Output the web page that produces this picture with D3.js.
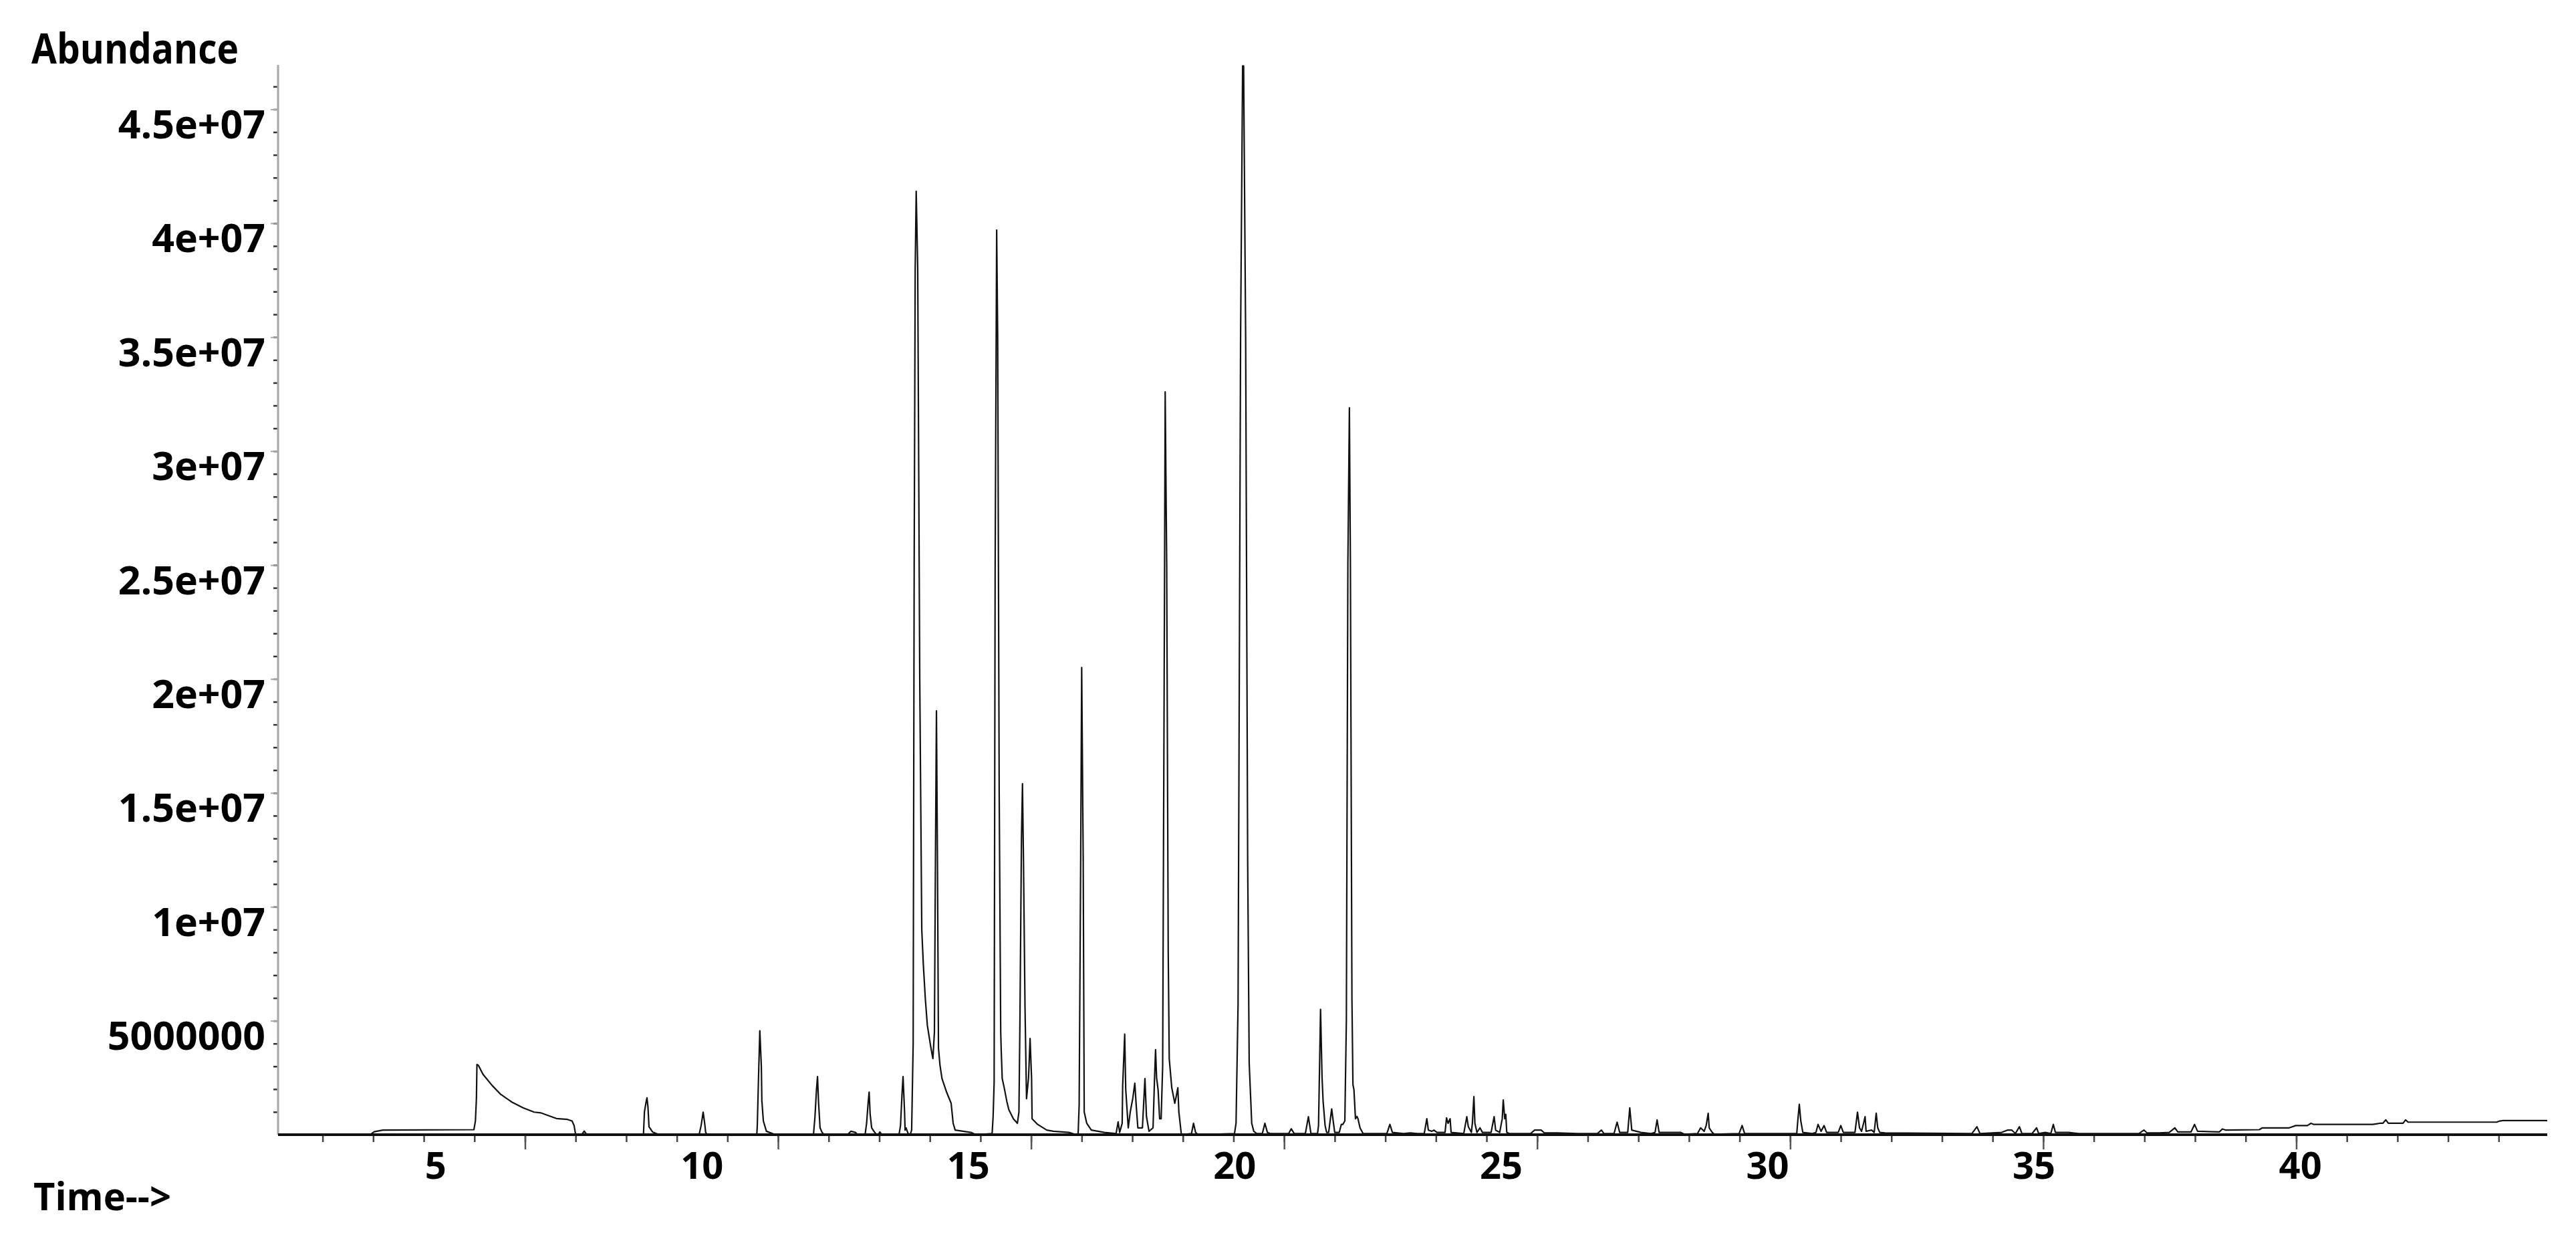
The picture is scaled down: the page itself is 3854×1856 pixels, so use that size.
<!DOCTYPE html>
<html><head><meta charset="utf-8">
<script src="https://cdn.jsdelivr.net/npm/d3@7"></script>
<style>
html,body{margin:0;padding:0;background:#fff;}
svg{display:block;}
text{font-family:"Open Sans",sans-serif;font-weight:700;fill:#000;}
</style>
</head><body>
<svg id="chart" width="3854" height="1856"></svg>
<script>
// Total ion chromatogram: [retention time (min), abundance (millions of counts)]
const ticPoints = [
[0.12,0],[1.94,0],[2.02,0.13],[2.19,0.2],[3.99,0.22],[4.02,0.6],[4.04,1.6],[4.05,3.08],[4.08,3.04],[4.17,2.65],
[4.35,2.16],[4.52,1.77],[4.74,1.43],[4.96,1.18],[5.18,0.99],[5.31,0.96],[5.40,0.89],[5.62,0.71],[5.84,0.67],[5.93,0.6],
[5.97,0.4],[6.00,0],[6.12,0],[6.17,0.16],[6.22,0],[7.34,0],[7.36,1.0],[7.39,1.4],[7.41,1.62],[7.43,1.2],
[7.45,0.35],[7.52,0.12],[7.65,0],[8.44,0],[8.48,0.4],[8.52,0.99],[8.55,0.5],[8.57,0.1],[8.60,0],[9.58,0],
[9.59,0.4],[9.62,3.0],[9.64,4.56],[9.67,3.0],[9.68,1.5],[9.71,0.6],[9.77,0.15],[9.95,0],[10.70,0],[10.73,0.8],
[10.76,2.0],[10.78,2.55],[10.80,1.43],[10.83,0.3],[10.87,0.1],[10.91,0],[11.37,0],[11.44,0.15],[11.53,0.1],[11.57,0],
[11.72,0],[11.75,0.5],[11.78,1.4],[11.80,1.87],[11.82,0.9],[11.85,0.3],[11.91,0.1],[11.95,0],[11.98,0],[12.01,0.12],
[12.05,0],[12.39,0],[12.42,0.4],[12.45,1.8],[12.47,2.55],[12.50,1.0],[12.51,0.2],[12.53,0.3],[12.57,0.05],[12.61,0],
[12.64,0.2],[12.67,4.0],[12.69,25],[12.71,38],[12.73,41.4],[12.76,38],[12.80,20],[12.84,9],[12.87,7.5],[12.91,5.98],
[12.95,4.8],[13.02,3.82],[13.06,3.34],[13.09,4.5],[13.11,12],[13.13,18.6],[13.15,12],[13.17,3.8],[13.20,3.05],[13.24,2.46],
[13.33,1.87],[13.42,1.38],[13.46,0.5],[13.50,0.2],[13.81,0.1],[13.91,0],[14.23,0.05],[14.25,0.8],[14.27,2.3],[14.29,25],
[14.32,39.7],[14.34,35],[14.37,15],[14.40,4.5],[14.41,3.7],[14.43,2.46],[14.47,2.05],[14.52,1.47],[14.56,1.1],[14.65,0.7],
[14.73,0.5],[14.76,1.0],[14.78,5],[14.81,13],[14.83,15.4],[14.85,12],[14.88,5.6],[14.91,1.58],[14.95,2.5],[14.98,4.22],
[15.01,2.46],[15.02,0.7],[15.13,0.45],[15.31,0.2],[15.44,0.15],[15.75,0.1],[15.89,0],[15.93,0.05],[15.95,1.3],[15.98,12],
[16.00,20.5],[16.03,12],[16.05,1.0],[16.10,0.5],[16.19,0.2],[16.32,0.15],[16.45,0.1],[16.68,0.05],[16.72,0.56],[16.75,0.1],
[16.80,0.5],[16.81,2.16],[16.85,4.41],[16.87,2.0],[16.92,0.3],[16.96,1.0],[17.01,1.6],[17.05,2.26],[17.08,1.2],[17.11,0.3],
[17.20,0.3],[17.25,2.46],[17.28,0.8],[17.33,0.15],[17.41,0.3],[17.44,2.5],[17.46,3.73],[17.48,2.5],[17.51,1.97],[17.54,0.7],
[17.57,0.7],[17.60,3],[17.63,20],[17.65,32.6],[17.68,25],[17.71,8],[17.73,3.34],[17.78,2.06],[17.84,1.38],[17.87,1.7],
[17.90,2.06],[17.92,1.0],[17.97,0],[18.17,0.05],[18.21,0.5],[18.25,0.1],[18.30,0],[19.02,0.05],[19.05,0.5],[19.09,5.7],
[19.14,35],[19.18,46.9],[19.20,46.9],[19.24,35],[19.28,12],[19.31,3.14],[19.36,0.5],[19.40,0.15],[19.46,0.05],[19.57,0.05],
[19.62,0.5],[19.67,0.1],[19.72,0.05],[20.09,0.05],[20.14,0.26],[20.20,0.05],[20.42,0.05],[20.48,0.79],[20.53,0.05],[20.66,0.05],
[20.68,0.4],[20.72,5.5],[20.75,2.5],[20.77,1.48],[20.81,0.4],[20.84,0.1],[20.88,0.1],[20.94,1.13],[20.97,0.6],[21.00,0.1],
[21.09,0.1],[21.13,0.45],[21.16,0.45],[21.20,0.6],[21.23,5],[21.26,25],[21.29,31.9],[21.31,25],[21.34,6],[21.36,2.2],
[21.38,1.97],[21.41,0.7],[21.44,0.8],[21.46,0.7],[21.50,0.3],[21.56,0.05],[22.03,0.05],[22.09,0.45],[22.14,0.1],[22.36,0.05],
[22.49,0.08],[22.63,0.05],[22.77,0.05],[22.82,0.7],[22.85,0.2],[22.92,0.15],[22.96,0.2],[23.02,0.1],[23.09,0.1],[23.18,0.1],
[23.21,0.74],[23.24,0.5],[23.28,0.7],[23.30,0.1],[23.55,0.05],[23.61,0.79],[23.64,0.35],[23.70,0.1],[23.72,0.5],[23.75,1.67],
[23.77,0.5],[23.81,0.1],[23.87,0.3],[23.92,0.1],[24.09,0.1],[24.15,0.79],[24.18,0.2],[24.26,0.1],[24.31,0.7],[24.33,1.52],
[24.36,0.7],[24.38,0.89],[24.40,0.1],[24.45,0.05],[24.87,0.05],[24.95,0.2],[25.08,0.2],[25.14,0.08],[25.40,0.08],[25.80,0.05],
[26.19,0.05],[26.27,0.2],[26.32,0.05],[26.52,0.05],[26.58,0.55],[26.63,0.1],[26.79,0.1],[26.83,1.18],[26.87,0.2],[27.05,0.1],
[27.25,0.05],[27.33,0.1],[27.37,0.65],[27.41,0.1],[27.83,0.1],[27.91,0.02],[28.17,0.05],[28.23,0.3],[28.30,0.15],[28.34,0.4],
[28.38,0.94],[28.40,0.3],[28.46,0.1],[28.50,0.02],[28.99,0.05],[29.05,0.4],[29.10,0.05],[29.36,0.05],[29.63,0.05],[30.13,0.05],
[30.15,0.6],[30.18,1.33],[30.21,0.6],[30.25,0.1],[30.44,0.05],[30.51,0.1],[30.55,0.45],[30.61,0.15],[30.67,0.4],[30.72,0.1],
[30.95,0.1],[31.00,0.4],[31.05,0.1],[31.28,0.1],[31.33,0.99],[31.37,0.3],[31.41,0.15],[31.45,0.5],[31.48,0.79],[31.50,0.15],
[31.61,0.2],[31.66,0.1],[31.70,0.94],[31.73,0.3],[31.77,0.1],[31.87,0.08],[33.59,0.05],[33.69,0.35],[33.75,0.05],[34.18,0.1],
[34.29,0.2],[34.38,0.2],[34.45,0.05],[34.53,0.35],[34.58,0.05],[34.78,0.05],[34.87,0.3],[34.91,0.05],[35.04,0.1],[35.15,0.05],
[35.20,0.45],[35.24,0.1],[35.37,0.1],[35.50,0.1],[35.70,0.05],[36.16,0.05],[36.89,0.05],[36.99,0.2],[37.05,0.08],[37.29,0.08],
[37.49,0.1],[37.60,0.3],[37.66,0.12],[37.92,0.12],[37.99,0.45],[38.05,0.15],[38.48,0.12],[38.54,0.25],[38.61,0.2],[39.27,0.22],
[39.33,0.3],[39.86,0.3],[39.99,0.4],[40.22,0.4],[40.29,0.5],[40.35,0.45],[41.51,0.45],[41.65,0.5],[41.71,0.5],[41.77,0.65],
[41.82,0.5],[42.11,0.5],[42.16,0.65],[42.21,0.55],[43.96,0.55],[44.02,0.6],[44.08,0.62],[44.96,0.62]
];

// Axis values
const timeDomain = [0.12, 44.96];          // instrument time range of the trace (min)
const labelTimeDomain = [2.05, 44.64];     // time range used by the printed axis numbers
const abundanceDomain = [0, 46.95e6];
const xMinorTicks = d3.range(1, 45, 1);
const xMajorTicks = d3.range(5, 45, 5);
const xTickValues = [5, 10, 15, 20, 25, 30, 35, 40];
const xTickLabels = ["5", "10", "15", "20", "25", "30", "35", "40"];
const yMinorTicks = d3.range(1e6, 47e6, 1e6);
const yTickValues = [5e6, 1e7, 1.5e7, 2e7, 2.5e7, 3e7, 3.5e7, 4e7, 4.5e7];
const yTickLabels = ["5000000", "1e+07", "1.5e+07", "2e+07", "2.5e+07", "3e+07", "3.5e+07", "4e+07", "4.5e+07"];
const yTitle = "Abundance";
const xTitle = "Time-->";

const svg = d3.select("#chart");
svg.append("rect").attr("width", 3854).attr("height", 1856).attr("fill", "#fff");

const plot = {left: 416, right: 3811, top: 97, bottom: 1697};

const x = d3.scaleLinear().domain(timeDomain).range([plot.left, plot.right]);
const xLabel = d3.scaleLinear().domain(labelTimeDomain).range([plot.left, plot.right]);
const y = d3.scaleLinear().domain(abundanceDomain).range([plot.bottom, plot.top]);

// Y axis: minor ticks
svg.append("g")
  .attr("transform", `translate(${plot.left},0)`)
  .call(d3.axisLeft(y).tickValues(yMinorTicks).tickSize(7).tickFormat(""))
  .call(g => g.select(".domain").remove())
  .call(g => g.selectAll("line").attr("stroke", "#333").attr("stroke-width", 2.5));

// Y axis: major ticks with labels
svg.append("g")
  .attr("transform", `translate(${plot.left},0)`)
  .call(d3.axisLeft(y).tickValues(yTickValues).tickSize(11).tickPadding(8)
        .tickFormat((d, i) => yTickLabels[i]))
  .call(g => g.select(".domain").remove())
  .call(g => g.selectAll("line").attr("stroke", "#aaa").attr("stroke-width", 2))
  .call(g => g.selectAll("text")
        .attr("font-size", 59).attr("font-family", "Open Sans, sans-serif")
        .attr("font-weight", 700).attr("fill", "#000").attr("dy", "0.73em"));

// Y axis line
svg.append("line")
  .attr("x1", plot.left).attr("x2", plot.left)
  .attr("y1", plot.top).attr("y2", plot.bottom)
  .attr("stroke", "#a8a8a8").attr("stroke-width", 3);

// X axis: minor and major tick marks (instrument time)
svg.append("g")
  .attr("transform", `translate(0,${plot.bottom})`)
  .call(d3.axisBottom(x).tickValues(xMinorTicks).tickSize(11).tickFormat(""))
  .call(g => g.select(".domain").remove())
  .call(g => g.selectAll("line").attr("stroke", "#444").attr("stroke-width", 2.5));
svg.append("g")
  .attr("transform", `translate(0,${plot.bottom})`)
  .call(d3.axisBottom(x).tickValues(xMajorTicks).tickSize(22).tickFormat(""))
  .call(g => g.select(".domain").remove())
  .call(g => g.selectAll("line").attr("stroke", "#555").attr("stroke-width", 2.5));

// X axis numbers
svg.append("g")
  .attr("transform", `translate(0,${plot.bottom})`)
  .call(d3.axisBottom(xLabel).tickValues(xTickValues).tickSize(0)
        .tickFormat((d, i) => xTickLabels[i]))
  .call(g => g.select(".domain").remove())
  .call(g => g.selectAll("text")
        .attr("font-size", 56).attr("font-family", "Open Sans, sans-serif")
        .attr("font-weight", 700).attr("fill", "#000")
        .attr("dy", null).attr("y", 66));

// Trace
const line = d3.line()
  .x(d => x(d[0]))
  .y(d => y(d[1] * 1e6));
svg.append("path")
  .datum(ticPoints)
  .attr("fill", "none")
  .attr("stroke", "#111")
  .attr("stroke-width", 2.2)
  .attr("stroke-linejoin", "round")
  .attr("d", line);

// X axis line (baseline)
svg.append("line")
  .attr("x1", plot.left).attr("x2", plot.right)
  .attr("y1", plot.bottom).attr("y2", plot.bottom)
  .attr("stroke", "#111").attr("stroke-width", 4);

// Titles
svg.append("text")
  .attr("x", 47).attr("y", 95)
  .attr("font-size", 62)
  .attr("textLength", 310).attr("lengthAdjust", "spacingAndGlyphs")
  .text(yTitle);
svg.append("text")
  .attr("x", 50).attr("y", 1810)
  .attr("font-size", 58)
  .attr("textLength", 206).attr("lengthAdjust", "spacingAndGlyphs")
  .text(xTitle);
</script>
</body></html>
